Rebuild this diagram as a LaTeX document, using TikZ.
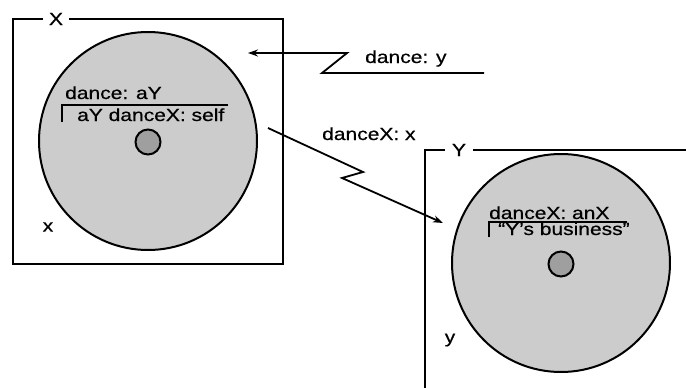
\documentclass[tikz,border=0pt]{standalone}
\usepackage{fontspec}
\setmainfont{Liberation Sans}[FakeStretch=1.2,FakeBold=0.6]
\usepackage{xcolor}
\usetikzlibrary{arrows.meta}

\begin{document}
\begin{tikzpicture}[x=1pt,y=-1pt,
  wall/.style={line width=2.2pt},
  cell/.style={circle,draw,line width=2pt,fill=gray!40,minimum size=218pt,inner sep=0pt},
  core/.style={circle,draw,line width=2pt,fill=gray!75,minimum size=25pt,inner sep=0pt},
  txt/.style={anchor=base west,inner sep=0pt,font=\fontsize{17.5}{20}\selectfont},
  tag/.style={fill=white,inner xsep=6pt,inner ysep=1pt,font=\fontsize{17.5}{20}\selectfont},
  msg/.style={line width=1.8pt,-{Stealth[length=10pt,width=7pt]}}]
\useasboundingbox (0,0) rectangle (686,388);
% object X
\draw[wall] (13,19) rectangle (283,264);
\node[tag] (xname) at (56,19) {X};
\node[cell] (xbody) at (148,141) {};
\node[core] (xcore) at (148,142) {};
\node[txt] (xslot) at (65,99) {dance: aY};
\draw[line width=1.6pt] (62,122) -- (62,105) -- (228,105);
\node[txt] (xcode) at (77,121) {aY danceX: self};
\node[txt,anchor=center] (xvar) at (48,227) {x};
% object Y
\draw[wall] (445,150) -- (425,150) -- (425,388);
\draw[wall] (473,150) -- (686,150);
\node[tag] (yname) at (459,150) {Y};
\node[cell] (ybody) at (561,263) {};
\node[core] (ycore) at (561,264) {};
\node[txt] (yslot) at (489,219) {danceX: anX};
\draw[line width=1.6pt] (489,237) -- (489,222) -- (627,222);
\node[txt] (ycode) at (498,235) {“Y’s business”};
\node[txt,anchor=center] (yvar) at (450,340) {y};
% messages
\coordinate (m1a) at (484,73);
\coordinate (m1b) at (248,53);
\draw[msg] (m1a) -- (322,73) -- (347,53) -- (m1b);
\node[txt] (m1) at (365,63) {dance: y};
\coordinate (m2a) at (268,128);
\coordinate (m2b) at (443,223);
\draw[msg] (m2a) -- (363,172) -- (342,178) -- (m2b);
\node[txt] (m2) at (322,140) {danceX: x};
\end{tikzpicture}
\end{document}
